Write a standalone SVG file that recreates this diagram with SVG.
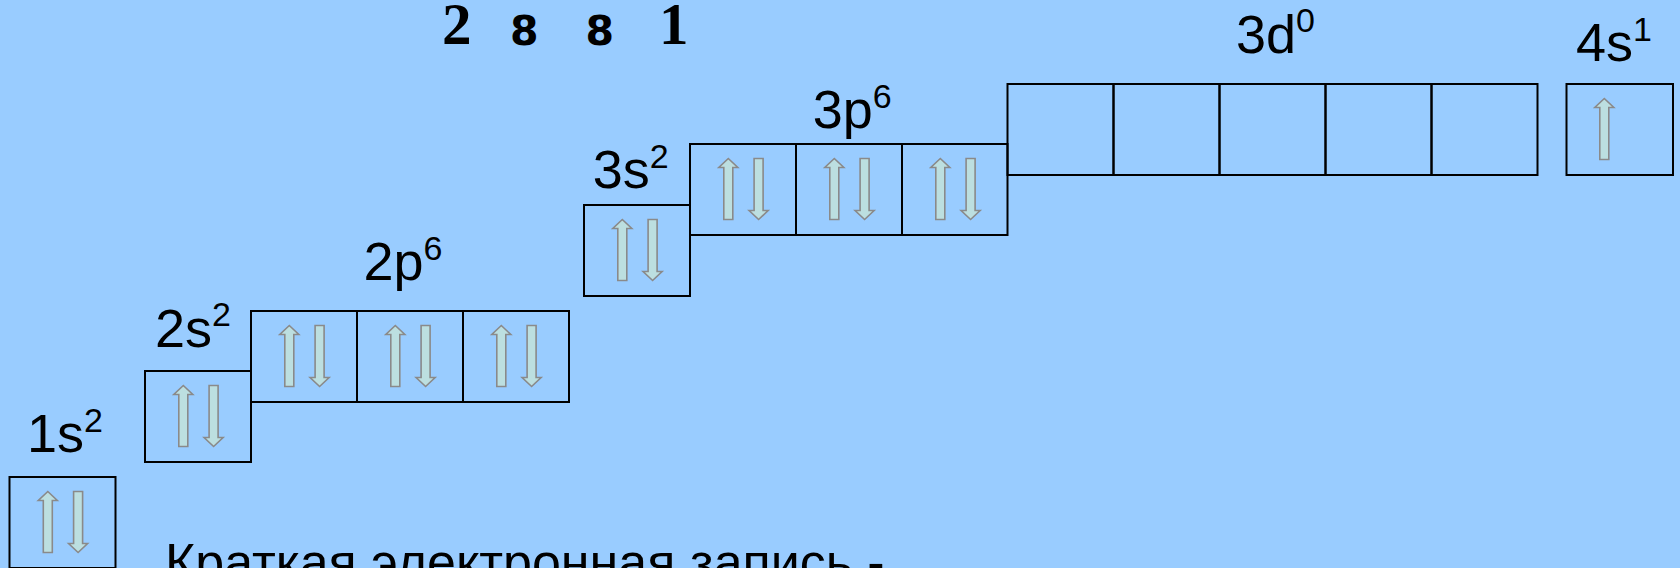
<svg xmlns="http://www.w3.org/2000/svg" width="1680" height="568" viewBox="0 0 1680 568">
<style>
.box{fill:none;stroke:#000;stroke-width:2}
.arr{fill:#BCDFE0;stroke:#8A8A8A;stroke-width:1.6}
.lbl{font-family:"Liberation Sans",Arial,sans-serif;font-size:54px;fill:#000}
.sup{font-size:34px}
.big{font-family:"Liberation Serif","Times New Roman",serif;font-weight:bold;font-size:59px;fill:#000}
.mid{font-family:"DejaVu Sans",Verdana,sans-serif;font-weight:bold;font-size:41px;fill:#000}
</style>
<defs>
<path id="up" d="M0,0 L9.5,9 L4.5,9 L4.5,61 L-4.5,61 L-4.5,9 L-9.5,9 Z"/>
<path id="down" d="M-4.5,0 L4.5,0 L4.5,52 L9.5,52 L0,61 L-9.5,52 L-4.5,52 Z"/>
</defs>
<rect x="0" y="0" width="1680" height="568" fill="#99CCFF"/>
<g id="shells">
<text class="big" x="442" y="44">2</text>
<text class="mid" x="510" y="45">8</text>
<text class="mid" x="585.5" y="45">8</text>
<text class="big" x="659" y="44">1</text>
</g>
<g id="n1s">
<text class="lbl" x="27" y="452">1s<tspan class="sup" dy="-20.5">2</tspan></text>
<rect class="box" x="9.5" y="477" width="106" height="91"/>
<use href="#up" class="arr" x="47.8" y="491.5"/>
<use href="#down" class="arr" x="78.1" y="491.5"/>
</g>
<g id="n2s">
<text class="lbl" x="155" y="346.7">2s<tspan class="sup" dy="-20.5">2</tspan></text>
<rect class="box" x="145" y="371" width="106" height="91"/>
<use href="#up" class="arr" x="183.3" y="385.5"/>
<use href="#down" class="arr" x="213.6" y="385.5"/>
</g>
<g id="n2p">
<text class="lbl" x="363.4" y="280">2p<tspan class="sup" dy="-20.5">6</tspan></text>
<rect class="box" x="251" y="311" width="106" height="91"/>
<rect class="box" x="357" y="311" width="106" height="91"/>
<rect class="box" x="463" y="311" width="106" height="91"/>
<use href="#up" class="arr" x="289.3" y="325.5"/>
<use href="#down" class="arr" x="319.6" y="325.5"/>
<use href="#up" class="arr" x="395.3" y="325.5"/>
<use href="#down" class="arr" x="425.6" y="325.5"/>
<use href="#up" class="arr" x="501.3" y="325.5"/>
<use href="#down" class="arr" x="531.6" y="325.5"/>
</g>
<g id="n3s">
<text class="lbl" x="592.7" y="188.3">3s<tspan class="sup" dy="-20.5">2</tspan></text>
<rect class="box" x="584" y="205" width="106" height="91"/>
<use href="#up" class="arr" x="622.3" y="219.5"/>
<use href="#down" class="arr" x="652.6" y="219.5"/>
</g>
<g id="n3p">
<text class="lbl" x="812.7" y="128.3">3p<tspan class="sup" dy="-20.5">6</tspan></text>
<rect class="box" x="690" y="144" width="106" height="91"/>
<rect class="box" x="796" y="144" width="106" height="91"/>
<rect class="box" x="902" y="144" width="105.5" height="91"/>
<use href="#up" class="arr" x="728.3" y="158.5"/>
<use href="#down" class="arr" x="758.6" y="158.5"/>
<use href="#up" class="arr" x="834.3" y="158.5"/>
<use href="#down" class="arr" x="864.6" y="158.5"/>
<use href="#up" class="arr" x="940.3" y="158.5"/>
<use href="#down" class="arr" x="970.6" y="158.5"/>
</g>
<g id="n3d">
<text class="lbl" x="1236" y="52.7">3d<tspan class="sup" dy="-20.5">0</tspan></text>
<rect class="box" x="1007.5" y="84" width="106" height="91"/>
<rect class="box" x="1113.5" y="84" width="106" height="91"/>
<rect class="box" x="1219.5" y="84" width="106" height="91"/>
<rect class="box" x="1325.5" y="84" width="106" height="91"/>
<rect class="box" x="1431.5" y="84" width="106" height="91"/>
</g>
<g id="n4s">
<text class="lbl" x="1576" y="61">4s<tspan class="sup" dy="-20.5">1</tspan></text>
<rect class="box" x="1566.5" y="84" width="106.5" height="91"/>
<use href="#up" class="arr" x="1604.3" y="98.5"/>
</g>
<g id="caption">
<text class="lbl" style="font-size:52px" x="165" y="580">Краткая электронная запись -</text>
</g>
<g id="connectors"/>
</svg>
